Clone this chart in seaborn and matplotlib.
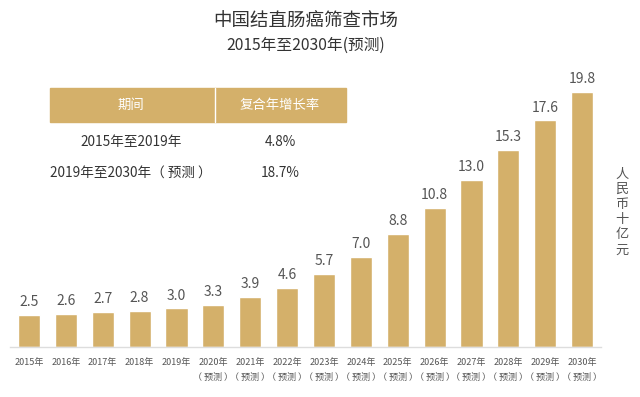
import matplotlib
matplotlib.use("Agg")
import matplotlib.pyplot as plt
import seaborn as sns
import pandas as pd

sns.set_theme(style="white")
plt.rcParams['font.family'] = ['Noto Sans CJK SC', 'DejaVu Sans']

years = ['2015年', '2016年', '2017年', '2018年', '2019年', '2020年', '2021年', '2022年',
         '2023年', '2024年', '2025年', '2026年', '2027年', '2028年', '2029年', '2030年']
values = [2.5, 2.6, 2.7, 2.8, 3.0, 3.3, 3.9, 4.6, 5.7, 7.0, 8.8, 10.8, 13.0, 15.3, 17.6, 19.8]
forecast = [False] * 5 + [True] * 11

table_header = ['期间', '复合年增长率']
table_periods = ['2015年至2019年', '2019年至2030年（ 预测 ）']
table_cagr = ['4.8%', '18.7%']

gold = '#D4B06A'
grey = '#555555'

df = pd.DataFrame({'year': years, 'value': values})

fig = plt.figure(figsize=(6.4, 3.97), dpi=100)
ax = fig.add_axes([0.0164, 0.126, 0.922, 0.723])
sns.barplot(data=df, x='year', y='value', color=gold, width=0.6, saturation=1, ax=ax)

for i, v in enumerate(values):
    ax.text(i, v + 0.45, f'{v:.1f}', ha='center', va='bottom', fontsize=10, color=grey)

labels = [y + ('\n（ 预测 ）' if f else '') for y, f in zip(years, forecast)]
ax.set_xticks(range(len(years)))
ax.set_xticklabels(labels, fontsize=6.5, color=grey, linespacing=1.9, va='top')
ax.tick_params(axis='x', length=0, pad=8)
ax.set_yticks([])
ax.set_xlabel('')
ax.set_ylabel('')
ax.set_xlim(-0.5, 15.5)
ax.set_ylim(0, 22.3)
for s in ['top', 'right', 'left']:
    ax.spines[s].set_visible(False)
ax.spines['bottom'].set_color('#dddddd')
ax.spines['bottom'].set_linewidth(1)

# title
fig.text(0.477, 1 - 22 / 397, '中国结直肠癌筛查市场', ha='center', va='center',
         fontsize=13.3, fontweight='medium', color='#333333')
fig.text(0.477, 1 - 45 / 397, '2015年至2030年(预测)', ha='center', va='center',
         fontsize=11.3, fontweight='medium', color='#333333')

# CAGR table
fig.patches.append(plt.Rectangle((50 / 640, 1 - 122 / 397), 296 / 640, 34 / 397,
                                 transform=fig.transFigure, color=gold, zorder=1))
fig.lines.append(plt.Line2D([215 / 640, 215 / 640], [1 - 122 / 397, 1 - 88 / 397],
                            transform=fig.transFigure, color='white', lw=1, zorder=2))
fig.text(131 / 640, 1 - 105 / 397, table_header[0], ha='center', va='center', fontsize=9.6,
         fontweight='medium', color='white', zorder=3)
fig.text(280 / 640, 1 - 105 / 397, table_header[1], ha='center', va='center', fontsize=9.6,
         fontweight='medium', color='white', zorder=3)
rows_y = [142, 173]
for p, c, yy in zip(table_periods, table_cagr, rows_y):
    fig.text(131 / 640, 1 - yy / 397, p, ha='center', va='center', fontsize=9.8, color='#333333')
    fig.text(280 / 640, 1 - yy / 397, c, ha='center', va='center', fontsize=9.8, color='#333333')

# unit label
fig.text(622 / 640, 1 - 212 / 397, '\n'.join('人民币十亿元'), ha='center', va='center',
         fontsize=9.5, color=grey, linespacing=1.22)

fig.savefig('out.png', dpi=100)
